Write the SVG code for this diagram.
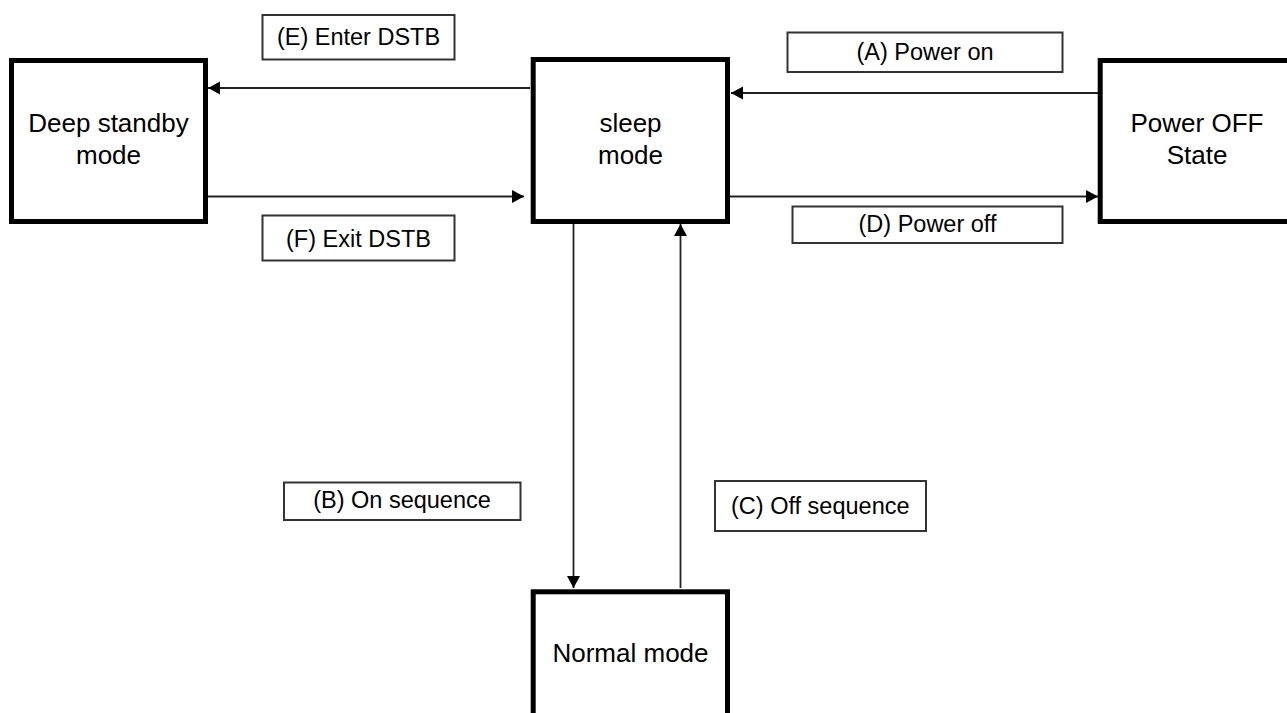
<svg xmlns="http://www.w3.org/2000/svg" width="1287" height="713" viewBox="0 0 1287 713">
<style>
.node{fill:#fff;stroke:#000;stroke-width:5}
.lbl{fill:#fff;stroke:#333;stroke-width:2}
.nt{font-family:"Liberation Sans",Arial,sans-serif;font-size:26px;fill:#000;text-anchor:middle}
.lt{font-family:"Liberation Sans",Arial,sans-serif;font-size:23.5px;fill:#000;text-anchor:middle}
.conn{stroke:#222;stroke-width:1.8;fill:none;marker-end:url(#ah)}
</style>
<defs>
<marker id="ah" markerUnits="userSpaceOnUse" markerWidth="13" markerHeight="14" refX="12" refY="6.5" orient="auto">
<path d="M0,0 L12,6.5 L0,13 z" fill="#000"/>
</marker>
</defs>
<rect width="1287" height="713" fill="#fff"/>
<g id="connectors">
<line class="conn" x1="530" y1="88" x2="208" y2="88"/>
<line class="conn" x1="208" y1="196.5" x2="524" y2="196.5"/>
<line class="conn" x1="1098" y1="93" x2="731" y2="93"/>
<line class="conn" x1="730" y1="196.5" x2="1098" y2="196.5"/>
<line class="conn" x1="573.5" y1="224" x2="573.5" y2="588"/>
<line class="conn" x1="680.5" y1="588" x2="680.5" y2="224"/>
</g>
<g id="deep-standby">
<rect class="node" x="11.5" y="60.5" width="194" height="161"/>
<text class="nt" x="108.5" y="132">Deep standby</text>
<text class="nt" x="108.5" y="164">mode</text>
</g>
<g id="sleep">
<rect class="node" x="533.2" y="59.5" width="194.3" height="162"/>
<text class="nt" x="630.5" y="132">sleep</text>
<text class="nt" x="630.5" y="164">mode</text>
</g>
<g id="power-off-state">
<rect class="node" x="1100.2" y="60.5" width="195" height="161"/>
<text class="nt" x="1197" y="132">Power OFF</text>
<text class="nt" x="1197" y="164">State</text>
</g>
<g id="normal">
<rect class="node" x="533.2" y="591.8" width="194.3" height="200"/>
<text class="nt" x="630.5" y="662">Normal mode</text>
</g>
<g id="label-e">
<rect class="lbl" x="262.5" y="15" width="192" height="44.5"/>
<text class="lt" x="358.5" y="45">(E) Enter DSTB</text>
</g>
<g id="label-f">
<rect class="lbl" x="262.5" y="215.5" width="192" height="45"/>
<text class="lt" x="358.5" y="246.5">(F) Exit DSTB</text>
</g>
<g id="label-a">
<rect class="lbl" x="787.5" y="32.5" width="275" height="39.5"/>
<text class="lt" x="925" y="60">(A) Power on</text>
</g>
<g id="label-d">
<rect class="lbl" x="792.5" y="206.5" width="270" height="36.5"/>
<text class="lt" x="927.5" y="232.3">(D) Power off</text>
</g>
<g id="label-b">
<rect class="lbl" x="284" y="482.5" width="236.5" height="37.5"/>
<text class="lt" x="402" y="508.3">(B) On sequence</text>
</g>
<g id="label-c">
<rect class="lbl" x="715" y="481" width="211" height="50"/>
<text class="lt" x="820.3" y="514">(C) Off sequence</text>
</g>
</svg>
